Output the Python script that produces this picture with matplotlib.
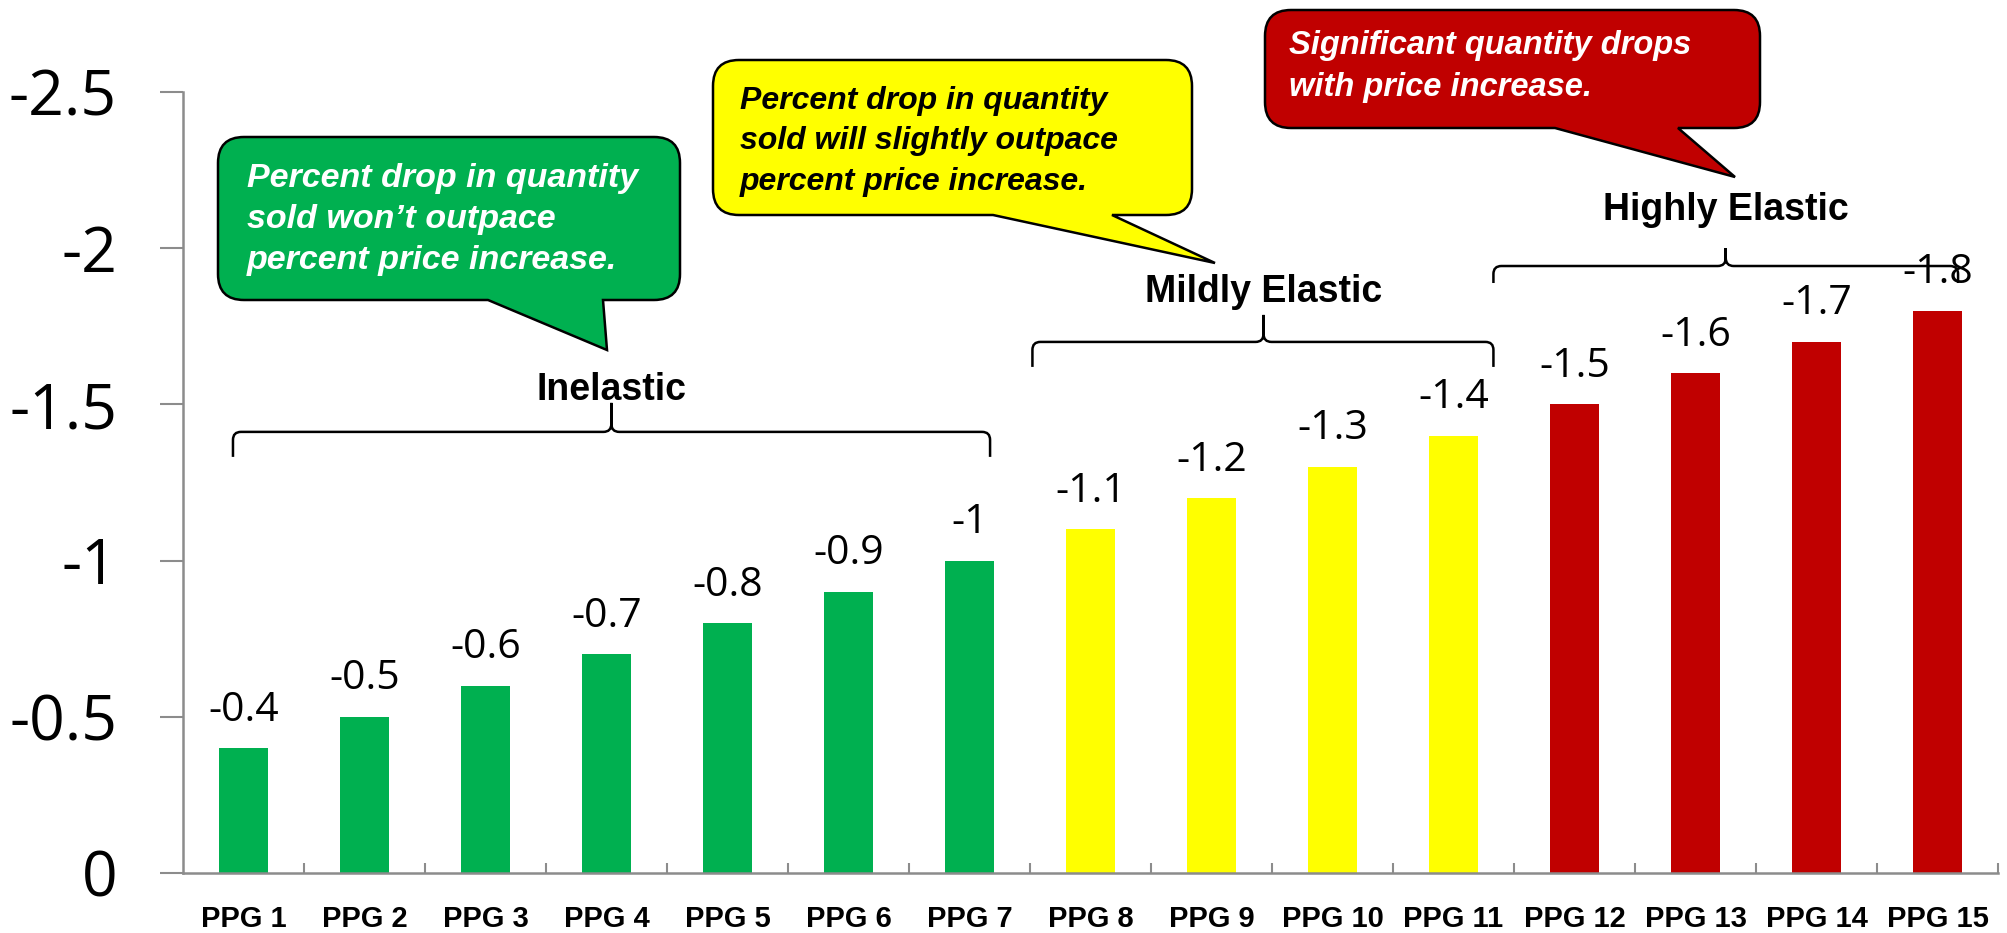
import matplotlib
matplotlib.use("Agg")
import matplotlib.pyplot as plt
from matplotlib.path import Path
from matplotlib.patches import PathPatch
from matplotlib.transforms import Affine2D

# price elasticity per product price group
categories = ["PPG 1", "PPG 2", "PPG 3", "PPG 4", "PPG 5", "PPG 6", "PPG 7", "PPG 8",
              "PPG 9", "PPG 10", "PPG 11", "PPG 12", "PPG 13", "PPG 14", "PPG 15"]
elasticity = [-0.4, -0.5, -0.6, -0.7, -0.8, -0.9, -1.0, -1.1,
              -1.2, -1.3, -1.4, -1.5, -1.6, -1.7, -1.8]
groups = ["Inelastic"] * 7 + ["Mildly Elastic"] * 4 + ["Highly Elastic"] * 4
group_colors = {"Inelastic": "#00B050", "Mildly Elastic": "#FFFF00", "Highly Elastic": "#C00000"}

y_ticks = [0, -0.5, -1, -1.5, -2, -2.5]
y_tick_labels = ["0", "-0.5", "-1", "-1.5", "-2", "-2.5"]

green_note = ["Percent drop in quantity", "sold won\u2019t outpace", "percent price increase."]
yellow_note = ["Percent drop in quantity", "sold will slightly outpace", "percent price increase."]
red_note = ["Significant quantity drops", "with price increase."]

W, H = 2007, 933
GRAY = "#8C8C8C"
NUM_FONT = ["Open Sans", "DejaVu Sans"]
LBL_FONT = ["Liberation Sans", "DejaVu Sans"]

fig = plt.figure(figsize=(W / 100, H / 100), dpi=100)
ax = fig.add_axes([183 / W, 60 / H, (1998 - 183) / W, (873 - 92) / H])

x = list(range(len(categories)))
ax.bar(x, elasticity, width=0.4, color=[group_colors[g] for g in groups], zorder=2)
ax.set_xlim(-0.5, len(categories) - 0.5)
ax.set_ylim(0, -2.5)

for sp in ["top", "right"]:
    ax.spines[sp].set_visible(False)
for sp in ["left", "bottom"]:
    ax.spines[sp].set_color(GRAY)
    ax.spines[sp].set_linewidth(1.8)

ax.set_yticks(y_ticks)
ax.set_yticklabels(y_tick_labels, fontfamily=NUM_FONT, fontsize=45)
ax.tick_params(axis="y", length=16.5, width=1.5, color=GRAY, pad=31)

ax.set_xticks(x)
ax.set_xticklabels(categories, fontfamily=LBL_FONT, fontweight="bold", fontsize=21)
ax.set_xticks([i + 0.5 for i in x], minor=True)
ax.tick_params(axis="x", which="major", length=0, pad=23)
ax.tick_params(axis="x", which="minor", direction="in", length=7, width=1.5, color=GRAY)

for xi, v in zip(x, elasticity):
    ax.annotate(f"{v:g}", (xi, v), xytext=(0, 19.8), textcoords="offset points",
                ha="center", va="baseline", fontsize=29.5, fontfamily=NUM_FONT, zorder=3)

# pixel space with the origin at the top-left corner
px = Affine2D().scale(1, -1).translate(0, H)


def to_px(xd, yd):
    dx, dy = ax.transData.transform((xd, yd))
    return dx, H - dy


def brace(xl, xm, xr, y, drop, rise, r=8):
    verts = [(xl, y + drop), (xl, y + r), (xl, y), (xl + r, y), (xm - r, y),
             (xm, y), (xm, y - r), (xm, y - rise), (xm, y - r), (xm, y), (xm + r, y),
             (xr - r, y), (xr, y), (xr, y + r), (xr, y + drop)]
    codes = [Path.MOVETO, Path.LINETO, Path.CURVE3, Path.CURVE3, Path.LINETO,
             Path.CURVE3, Path.CURVE3, Path.LINETO, Path.LINETO, Path.CURVE3, Path.CURVE3,
             Path.LINETO, Path.CURVE3, Path.CURVE3, Path.LINETO]
    return Path(verts, codes)


# group brackets: label, left, middle, right, line level, label level (data units)
brackets = [
    ("Inelastic", -0.087, 3.04, 6.17, -1.412, -1.514, 25, 29),
    ("Mildly Elastic", 6.52, 8.43, 10.33, -1.700, -1.828, 25, 27),
    ("Highly Elastic", 10.33, 12.25, 14.17, -1.943, -2.090, 17, 18),
]
for label, xl, xm, xr, yl, ylab, drop, rise in brackets:
    pl, py = to_px(xl, yl)
    pm, _ = to_px(xm, yl)
    pr, _ = to_px(xr, yl)
    fig.add_artist(PathPatch(brace(pl, pm, pr, py, drop, rise), transform=px,
                             facecolor="none", edgecolor="black", lw=1.8, zorder=4))
    ax.text(xm, ylab, label, ha="center", va="baseline", fontsize=27,
            fontweight="bold", fontfamily=LBL_FONT, zorder=4, clip_on=False)


def bubble(x0, y0, x1, y1, xa, xb, tx, ty, r=26):
    verts = [(x0 + r, y0), (x1 - r, y0), (x1, y0), (x1, y0 + r), (x1, y1 - r),
             (x1, y1), (x1 - r, y1), (xb, y1), (tx, ty), (xa, y1), (x0 + r, y1),
             (x0, y1), (x0, y1 - r), (x0, y0 + r), (x0, y0), (x0 + r, y0), (x0 + r, y0)]
    codes = [Path.MOVETO, Path.LINETO, Path.CURVE3, Path.CURVE3, Path.LINETO,
             Path.CURVE3, Path.CURVE3, Path.LINETO, Path.LINETO, Path.LINETO, Path.LINETO,
             Path.CURVE3, Path.CURVE3, Path.LINETO, Path.CURVE3, Path.CURVE3, Path.CLOSEPOLY]
    return Path(verts, codes)


callouts = [
    (green_note, "#00B050", "white", (218, 137, 680, 300), (488, 603, 607, 350), 247, 187, 41, 24.5),
    (yellow_note, "#FFFF00", "black", (713, 60, 1192, 215), (993, 1112, 1215, 263), 740, 109, 40.5, 23),
    (red_note, "#C00000", "white", (1265, 10, 1760, 128), (1555, 1678, 1735, 177), 1289, 54, 42, 23.5),
]
for lines, fill, tcolor, box, tail, tx0, base0, step, fs in callouts:
    fig.add_artist(PathPatch(bubble(*box, *tail), transform=px, facecolor=fill,
                             edgecolor="black", lw=1.8, zorder=5))
    for k, line in enumerate(lines):
        fig.text(tx0, base0 + k * step, line, transform=px, ha="left", va="baseline",
                 color=tcolor, fontsize=fs, fontweight="bold", fontstyle="italic",
                 fontfamily=LBL_FONT, zorder=6)

fig.savefig("out.png", dpi=100, facecolor="white")
